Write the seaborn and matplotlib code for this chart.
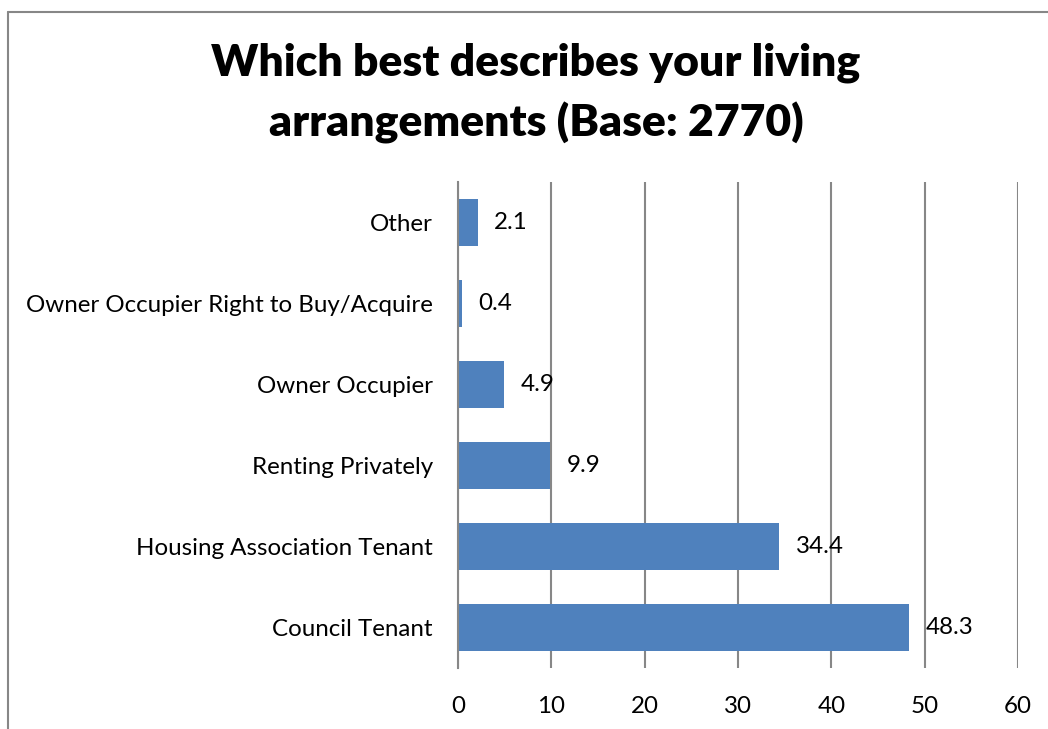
import seaborn as sns
import matplotlib.pyplot as plt
import matplotlib.lines as mlines
import pandas as pd

# living arrangement shares (%), top to bottom as in the chart
categories = ['Other', 'Owner Occupier Right to Buy/Acquire', 'Owner Occupier',
              'Renting Privately', 'Housing Association Tenant', 'Council Tenant']
values = [2.1, 0.4, 4.9, 9.9, 34.4, 48.3]
x_ticks = [0, 10, 20, 30, 40, 50, 60]

df = pd.DataFrame({'category': categories, 'value': values})

sns.set_style('white')
plt.rcParams['font.family'] = ['Lato', 'DejaVu Sans']
plt.rcParams['text.color'] = 'black'

fig = plt.figure(figsize=(10.48, 7.29), dpi=100)
ax = fig.add_axes([458 / 1048, 1 - 668 / 729, 560 / 1048, 486 / 729])

sns.barplot(data=df, x='value', y='category', order=categories, orient='h',
            color='#4F81BD', saturation=1, width=0.58, linewidth=0, ax=ax)

ax.set_xlim(0, 60)
ax.set_ylim(len(categories) - 0.5, -0.5)
ax.set_xticks(x_ticks)
ax.set_xticklabels([str(t) for t in x_ticks])
ax.xaxis.grid(True, color='#878787', linewidth=1.5)
ax.set_axisbelow(True)
ax.set_xlabel('')
ax.set_ylabel('')
for side in ['top', 'right', 'bottom']:
    ax.spines[side].set_visible(False)
ax.spines['left'].set_color('#878787')
ax.spines['left'].set_linewidth(1.5)
ax.tick_params(axis='x', length=0, pad=20, labelsize=17.4, labelcolor='black')
ax.tick_params(axis='y', length=0, pad=18, labelsize=17.4, labelcolor='black')

for i, v in enumerate(values):
    ax.annotate(f'{v}', xy=(v, i), xytext=(12, 0), textcoords='offset points',
                ha='left', va='center', fontsize=17.4, color='black')

fig.text(536 / 1048, 1 - 93 / 729,
         'Which best describes your living\narrangements (Base: 2770)',
         ha='center', va='center', fontsize=32, fontweight='heavy',
         linespacing=1.55, color='black')

# chart border (left and top edges visible in the crop)
fig.add_artist(mlines.Line2D([8 / 1048, 8 / 1048], [0, 1 - 12 / 729],
                             color='#878787', linewidth=1.5, transform=fig.transFigure))
fig.add_artist(mlines.Line2D([8 / 1048, 1], [1 - 12 / 729, 1 - 12 / 729],
                             color='#878787', linewidth=1.5, transform=fig.transFigure))

fig.savefig('out.png', dpi=100)
